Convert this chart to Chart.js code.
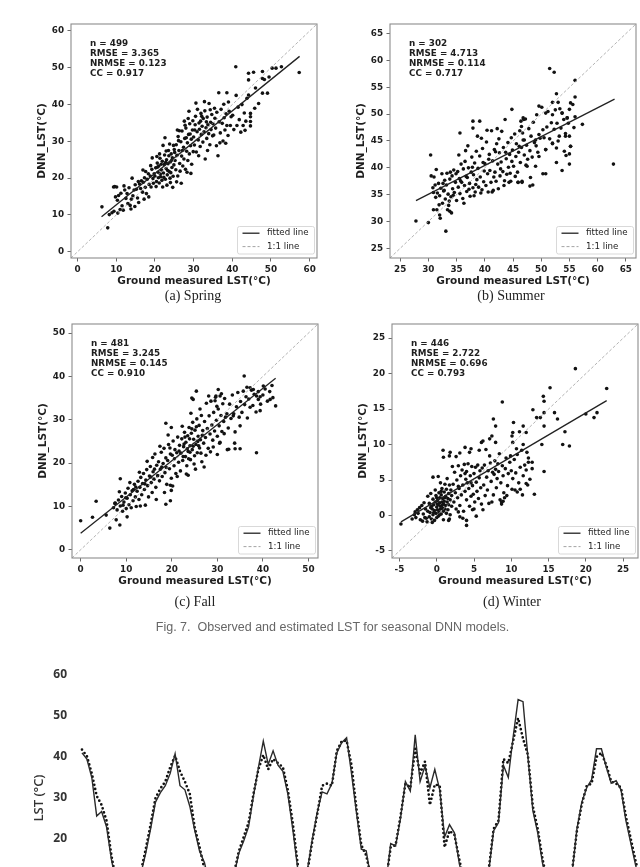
<!DOCTYPE html>
<html>
<head>
<meta charset="utf-8">
<script src="https://cdn.jsdelivr.net/npm/chart.js@4.4.1/dist/chart.umd.min.js"></script>
<style>
  html, body { margin: 0; padding: 0; background: #fff; overflow: hidden; }
  body { width: 640px; height: 867px; position: relative; }
  .panel { position: absolute; width: 320px; height: 290px; }
  .cap { position: absolute; transform: translate(-50%, -50%); white-space: nowrap; line-height: 1;
         font-family: "Liberation Serif", serif; font-size: 14px; color: #222; }
  #figcap { position: absolute; left: 332.5px; top: 627px; transform: translate(-50%, -50%); white-space: nowrap;
            font-family: "Liberation Sans", sans-serif; font-size: 12.5px; color: #666; line-height: 1; }
  #lineWrap { position: absolute; left: 0; top: 660px; width: 700px; height: 300px; }
</style>
</head>
<body>
<div class="panel" style="left:0.7px;top:14px"><canvas id="cSpring"></canvas></div>
<div class="panel" style="left:320px;top:14px"><canvas id="cSummer"></canvas></div>
<div class="panel" style="left:2.3px;top:314.3px"><canvas id="cFall"></canvas></div>
<div class="panel" style="left:321.7px;top:314px"><canvas id="cWinter"></canvas></div>
<div class="cap" style="left:193px;top:296px">(a) Spring</div>
<div class="cap" style="left:511px;top:296px">(b) Summer</div>
<div class="cap" style="left:195px;top:602px">(c) Fall</div>
<div class="cap" style="left:512px;top:602px">(d) Winter</div>
<div id="figcap">Fig. 7.&nbsp; Observed and estimated LST for seasonal DNN models.</div>
<div id="lineWrap"><canvas id="cLine"></canvas></div>

<script>
// ── Scatter data (ground measured LST, DNN LST) ─────────────────────────────
const springPts = [
  [6.3,12.2],[7.8,6.5],[8.2,10.1],[8.9,10.6],[9.3,17.6],[9.6,17.7],[10.1,17.6],[9.8,14.9],[10.3,14],[10.6,15.3],[9.4,11],[10.4,10.5],[11,11.5],
  [11.5,12.5],[11.8,11.3],[12.2,16.8],[12.5,14.5],[12.8,15.8],[13,13.1],[13.3,17.4],[13.6,12.6],[13.8,11.6],[14.1,20],[14.3,15.2],[14.6,16.8],[14.9,18.2],[15.2,17],[15.5,14.6],[15.8,13.4],[11.2,15.9],[12,17.9],[13.9,14.3],[14.8,12.3],
  [16,18.4],[16.3,17.2],[16.5,19.3],[16.8,16.2],[17,18.9],[17.3,20.1],[17.5,17.5],[17.8,15.8],[18,19.7],[18.3,21.2],[18.5,18.3],[18.8,20.6],[19,17.6],[19.2,22.4],[19.5,19.9],[19.8,21.2],[17.2,14.3],[18.4,14.9],[16.9,22.2],[19.3,25.5],[19.6,18.6],[17.6,21.8],[15.7,19.1],[18.9,23.4],
  [20,20.5],[20.2,22.8],[20.4,19.1],[20.6,24.1],[20.8,21.6],[21,23.3],[21.1,18.7],[21.3,25.4],[21.5,20.4],[21.7,22.2],[21.9,24.6],[22,17.6],[22.2,21.4],[22.4,23.7],[22.5,26.3],[22.7,19.7],[22.9,22.6],[23,25],[23.2,20.9],[23.4,23.9],[23.5,27.5],[23.7,21.8],[23.9,24.3],[24,18.8],[24.2,26.6],[24.4,22.9],[24.5,25.5],[24.7,20.5],[24.9,23.6],[25,27.8],
  [20.3,17.7],[21.2,26.6],[22.1,28.9],[22.6,31],[23.1,18.1],[23.8,29.3],[24.6,17.5],[20.9,20.1],[21.6,23.8],[22.8,24.3],[23.3,22.1],[24.1,21.5],[22.3,20.2],[20.5,25.9],[21.8,19.4],[23.6,26.1],[24.8,28.9],[20.7,23],[21.4,21.1],[22.9,27.4],[24.3,24.8],[23.9,20],
  [25.2,24.8],[25.4,22.3],[25.5,29.1],[25.7,26.2],[25.9,20.6],[26,31.3],[26.2,27.5],[26.4,24],[26.5,21.9],[26.7,29.9],[26.9,26],[27,32.8],[27.2,23.3],[27.4,28.4],[27.5,25.2],[27.7,30.8],[27.9,22.4],[28,33.6],[28.2,27.3],[28.4,29.6],[28.5,24.8],[28.7,31.9],[28.9,26.6],[29,34.8],[29.2,28.8],[29.4,30.6],[29.5,23.8],[29.7,33.1],[29.9,27.2],
  [25.6,19],[26.8,18.6],[27.6,35.5],[28.6,36.2],[29.3,21.3],[25.1,27],[26.1,30.2],[27.1,27.5],[28.1,31],[29.1,32],[29.8,35.6],[26.3,32.9],[28.8,38.2],[27.8,34.4],[25.8,33.1],[28.3,21.6],
  [30,31.2],[30.2,29],[30.4,34.5],[30.5,36.8],[30.7,27.1],[30.9,32.6],[31,38.7],[31.2,30.4],[31.4,35],[31.5,33.3],[31.7,28.6],[31.9,37.6],[32,31.9],[32.2,34.1],[32.4,29.8],[32.5,36.2],[32.7,32.6],[32.9,38.3],[33,25.2],[33.2,33.7],[33.4,30.8],[33.5,36.6],[33.7,34.5],[33.9,32.1],[34,40.3],[34.2,29.1],[34.4,35.2],[34.5,33.2],[34.7,37.3],[34.9,31.5],
  [30.6,40.4],[31.3,26.1],[32.8,40.8],[33.6,27.5],[31.8,35.5],[30.3,33.1],[32.1,36.8],[33.3,35.3],[34.3,38.6],[35,34.8],
  [35.2,31.7],[35.5,36.3],[35.7,33.6],[36,37.9],[36.3,26.1],[36.5,43.2],[36.6,35.3],[36.9,32.3],[37.1,38.7],[37.4,34.9],[37.6,30.1],[37.9,36.4],[38.1,33.1],[38.4,37.5],[38.6,43.2],[38.6,34.3],[38.9,31.6],[39.2,38.2],[39.5,34.3],[39.7,36.7],[35.9,28.8],[36.8,29.6],[37.8,40.1],[39,40.7],[35.4,39],[38.3,29.5],
  [40.1,37.1],[40.4,33.2],[40.9,50.3],[41.2,34.3],[41.5,39.3],[41.8,35.9],[42.2,32.5],[42.8,34.3],[43.1,37.7],[43.5,35.5],[43.8,41.7],[44.2,42.6],[44.2,46.7],[44.2,48.5],[44.7,37.6],[44.7,36.7],[44.7,35.4],[44.7,34.2],[42.5,40],[41,42.5],[43.3,33],
  [45.5,48.8],[46.8,40.3],[47.8,49],[47.8,47.1],[48.3,46.8],[47.8,43.1],[49.1,43.1],[50.3,49.9],[51.3,49.9],[52.7,50.3],[57.3,48.7],[46,44.5],[49.5,47.5],[45.8,39]
];
const summerPts = [
  [27.8,30.1],[30,29.8],[30.4,42.4],[33.1,28.2],[30.9,32.2],[31.5,32.2],[32,31.2],[33.8,31.9],[35.6,46.5],[37.9,48.7],[37.9,47.4],[39.1,48.7],[44.8,50.9],[46.8,49.3],[46.9,49],[46.5,47.7],
  [51.5,58.5],[52.3,57.8],[56,56.3],[56,53.2],[55.2,52.1],[55,50.9],[52.7,53.8],[53,52.2],[52,52.2],[57.3,48.1],[62.8,40.7],[55,42.6],[54.1,43.1],[54.4,42.3],[55,40.7],[53.7,39.5],[52.7,41],
  [50.3,38.9],[50.8,38.9],[48,36.6],[48.5,36.8],[47.3,40.5],[45.9,37.3],[46.6,37.5],[44.6,37.5],[55.2,44],[54.3,45.9],[53.2,45.9],[50.8,43.4],[49,45.2],[49.6,42.1],[52,44.6],[52.7,43.7],
  [49.6,51.5],[50.8,50.2],[52,49.9],[53.7,50.2],[54.6,49.3],[46.1,44],[47,45.2],[46.7,46.5],
  [30.5,38.5],[30.8,36.3],[31,38.3],[31.2,36.8],[31.4,39.7],[31.6,35.3],[31.8,37.1],[32,34.8],[32.2,36.2],[32.4,38.9],[32.5,33.4],[32.7,35.7],[32.9,37.7],[33,34.2],[33.2,36.8],[33.3,39],[33.5,35.1],[33.6,33],[33.8,37.9],[34,34.6],[34.2,38.5],[34.3,36.1],[34.5,39.6],[34.6,35.4],[34.8,37.3],[35,33.9],
  [31.3,34.5],[32.1,30.6],[33.4,32.2],[34.1,31.6],[31.9,33.1],[32.8,35.8],[34.9,38.9],[30.9,35.4],[33.7,33.8],[34.4,34.9],[32.6,37.1],[33.9,39.2],
  [35.2,39.3],[35.3,36.4],[35.5,38],[35.6,35.2],[35.8,40.7],[35.9,37.3],[36.1,34.3],[36.2,39.8],[36.4,36.7],[36.5,41.2],[36.7,38.4],[36.8,35.6],[37,44.1],[37.1,40],[37.3,37.1],[37.4,34.7],[37.6,39.2],[37.7,42],[37.9,36.3],[38,38.7],[38.2,40.9],[38.3,35.5],[38.5,43.1],[38.6,37.8],[38.8,39.9],[38.9,36.4],[39.1,42.2],[39.2,38.3],[39.4,45.5],[39.5,35.9],[39.7,41],[39.8,37.4],[39.9,39.4],
  [35.4,42.4],[36.3,33.4],[37.2,36],[38.1,34.8],[38.7,45.9],[39.3,35.3],[36.9,38.2],[35.7,37.6],[37.8,40.1],[36.6,43.2],[38.4,36.9],[39.6,43.6],
  [40,40.8],[40.2,36.7],[40.3,44.8],[40.5,38.9],[40.6,35.5],[40.8,42.5],[40.9,39.5],[41.1,37.3],[41.2,46.9],[41.4,41.3],[41.5,35.8],[41.7,43.4],[41.8,39.2],[42,37.5],[42.1,44.5],[42.3,40.7],[42.4,36.1],[42.6,42.8],[42.7,38.5],[42.9,41.1],[43,46.8],[43.2,39.3],[43.3,43.8],[43.5,37.6],[43.6,49],[43.8,41.7],[43.9,38.8],[44.1,44.7],[44.2,40.1],[44.4,42.5],[44.5,39],[44.7,45.6],[44.8,41.2],[44.9,43.3],
  [40.4,47],[41.3,35.5],[42.2,47.3],[43.4,36.7],[44.3,37.3],[40.7,41.6],[41.9,43],[42.8,39.8],[43.7,42.9],[41.6,38.3],[42.5,45.4],
  [45.1,40.3],[45.3,46.3],[45.5,42.1],[45.6,44.5],[45.8,39.2],[46,42.9],[46.2,46.9],[46.3,41],[46.5,43.8],[46.8,45.2],[47,42.4],[47.2,49.1],[47.4,44.2],[47.6,41.6],[47.8,47.3],[48,43.2],[48.2,45.9],[48.4,42],[48.6,48.5],[48.8,44.7],[49,40.3],[49.2,49.9],[49.4,42.9],[49.6,46.2],[49.8,45.5],
  [45.4,38.4],[46.6,37.3],[47.5,40.3],[48.1,38.2],[49.1,44.1],[46.4,48.7],[45.9,37.3],
  [50.1,51.3],[50.3,47.1],[50.5,45.6],[50.8,43.4],[51,47.6],[51.2,50.5],[51.5,45.4],[51.8,48.4],[52,44.5],[52.3,47.2],[52.5,50.8],[52.8,48.3],[53,45],[53.3,51],[53.5,47.4],[53.7,50.2],[54,49],[54.3,46.4],[54.6,49.3],[55,45.9],[55.2,44],[55.6,51.8],[56,49.5],[55.8,47.5],[54.8,48.3]
];
const fallPts = [
  [0,6.7],[2.6,7.5],[3.4,11.2],[6.4,5],[8.7,16.4],[18.7,29.2],[19.9,28.2],[18.7,10.5],[19.7,11.3],[25.4,36.6],[24.4,35],[24.7,34.7],[35.9,40.1],[33.9,23.3],[38.6,22.4],[42.8,33.2],
  [41.6,34.7],[42.2,35.1],[40.1,37.8],[39.4,35.3],[39,34.7],[39.4,32.1],[37.2,37.4],[37.9,37],[38.6,35.5],[30,22],[32.2,23.1],[30.2,37],[29.7,35.5],[27.1,19.1],[29.1,23.7],[30.6,24.8],
  [23.6,17.2],[19.7,14.9],[19.9,13.7],[10.2,7.6],[9.3,10.3],[7.5,10.7],[5.6,8],[7.8,6.9],[8.6,5.7],[35,28.6],[33.5,30.9],
  [7.2,9.7],[7.6,10.8],[8,9.2],[8.3,11.5],[8.7,10.1],[9,12.3],[9.2,8.9],[9.5,11],[9.8,13.1],[10,9.5],[10.2,11.9],[10.4,14.2],[10.6,10.4],[10.9,12.7],[11.1,9.7],[11.3,13.6],[11.5,11.3],[11.8,15.1],[12,12.2],[12.2,10],[10.8,15.5],[11.6,13.9],[12.1,14.5],[9.9,12],[8.5,13.4],
  [12.4,13.5],[12.6,15.8],[12.8,11.6],[13,14.4],[13.2,16.7],[13.4,12.7],[13.6,15.3],[13.8,17.6],[14,13.9],[14.2,10.3],[14.3,16.1],[14.5,18.5],[14.7,14.8],[14.9,12.2],[15.1,17],[15.3,19.2],[15.5,15.5],[15.7,13.2],[15.9,18],[16.1,16.3],[16.3,22.1],[16.5,14.4],[16.7,19.5],[16.9,17.1],
  [13.1,10.1],[14.6,20.4],[15.8,21.3],[16.6,11.6],[12.9,17.9],[14.1,15.2],[15.4,16.8],[16.2,18.6],
  [17.1,20.3],[17.3,15.9],[17.5,18.6],[17.7,22.5],[17.9,16.9],[18.1,19.9],[18.3,23.4],[18.5,17.8],[18.7,21.2],[18.9,15.1],[19.1,20.6],[19.3,24.3],[19.5,18.7],[19.7,22.1],[19.9,16.5],[20.1,21.8],[20.3,25.1],[20.5,19.4],[20.7,23.1],[20.9,17.6],[21.1,22.4],[21.3,26],[21.5,20.2],[21.7,24.1],[21.9,18.2],
  [17.4,23.9],[18.4,13.2],[19.2,26.5],[20.2,14.7],[21.2,16.9],[19.6,23.5],[18.8,19],[20.6,21],[21.6,22.8],[17.8,19.1],
  [22,22.3],[22.2,25.6],[22.4,20.6],[22.6,23.8],[22.8,27.1],[23,21.5],[23.1,24.8],[23.3,19.4],[23.5,26.3],[23.6,22.7],[23.8,28.2],[24,24],[24.1,20.8],[24.3,26.9],[24.5,23.1],[24.6,29.4],[24.8,25.5],[25,21.7],[25.1,27.6],[25.3,24.3],[25.5,30.2],[25.6,22.4],[25.8,26.2],[26,28.7],[26.1,23.5],[26.3,25.4],[26.5,31],[26.6,20.3],[26.8,27.5],[27,24.6],
  [22.3,28.5],[23.2,17.5],[24.2,31.5],[25.2,18.6],[26.2,32.5],[22.7,24.4],[23.9,25.6],[24.7,23.9],[25.7,25],[26.7,26.4],[22.5,21.5],[23.4,23.3],[24.4,27.9],[25.4,28.4],[26.4,22.3],[24.9,19.8],[23.7,21],[25.9,24],[22.9,26],[24,22.5],
  [27.2,29.6],[27.4,25.9],[27.6,33.8],[27.8,28],[28,23.4],[28.2,30.9],[28.4,26.7],[28.6,34.3],[28.8,28.8],[29,25.3],[29.2,31.7],[29.4,27.4],[29.6,35.2],[29.8,29.9],[30,26.2],[30.2,32.5],[30.4,28.6],[30.6,35.5],[30.8,31],[31,27.3],[31.2,33.7],[31.4,29.6],[31.6,34.9],[31.8,30.6],
  [27.5,21.8],[28.5,22.6],[29.5,34.4],[30.5,24.6],[31.5,26.8],[28.1,35.5],[29.9,33.1],[30.9,36],
  [32.1,31.4],[32.4,28.1],[32.7,33.6],[33,30.3],[33.3,35.7],[33.6,31.4],[33.9,27.2],[34.2,33],[34.5,36.3],[34.8,30.6],[35.1,34.2],[35.4,31.7],[35.7,36.6],[36,33.5],[36.3,35.3],[36.6,30.4],[36.9,34.8],[37.2,32.9],[37.5,36.8],[37.8,33.3],[38.1,35.9],[38.5,31.8],[39,36.5],[39.5,33.6],[40,35.7],[40.5,37.1],[41,34.3],[41.5,36.5],[42,37.9],
  [33.8,24.6],[32.5,23.2],[35,23.3],[36.5,37.5]
];
const winterPts = [
  [-4.8,-1.2],[18.6,20.7],[22.8,17.9],[15.2,18],[8.8,16],[14.3,16.8],[14.4,16.1],[12.9,14.9],[13.4,13.8],[13.9,13.8],[14.4,14.5],[14.4,12.6],[15.8,14.5],[16.2,13.6],[17.2,11.8],[16.9,10],[17.8,9.8],
  [20,14.3],[21.1,13.8],[21.5,14.5],[14.1,10],[14.4,6.2],[13.1,3],[7.6,13.6],[7.9,12.6],[10.3,13.1],[10.2,11.7],[10.1,11.2],[11.6,12.6],[12,11.7],[11.1,11.8],
  [10.2,10.3],[10.7,9.4],[11.6,10],[12.1,8.9],[12.3,7.5],[12.8,7.5],[7.4,11.2],[7.1,10.8],[6,10.3],[6.2,10.5],[3.8,9.6],[4.6,9.4],[0.85,9.2],[0.9,8.2],[1.8,8.9],[1.7,8.4],
  [4,-0.7],[4,-1.4],[2.9,0.5],[3.1,-0.2],[1.7,-0.5],[11.2,3.7],[12,4.5],[10.8,3.3],[9.4,2.8],[10.1,3.7],[8.7,1.6],[8.9,2],[5,0.9],
  [-2.5,0.3],[-2.2,-0.6],[-2,1.4],[-1.8,0.2],[-1.6,-0.3],[-1.5,0.9],[-1.3,-0.9],[-1.2,0.6],[-1,1.7],[-1,-0.2],[-0.9,0.4],[-0.8,1.1],[-0.7,-0.5],[-0.6,0.9],[-0.5,2.3],[-0.5,0.1],[-0.4,1.5],[-0.3,-0.7],[-0.3,0.7],[-0.2,1.9],
  [-0.1,0.3],[-0.1,2.8],[0,1.2],[0,-0.3],[0.1,0.8],[0.1,2.1],[0.2,1.5],[0.2,-0.1],[0.3,3.2],[0.3,0.5],[0.4,1.8],[0.4,2.5],[0.5,0.9],[0.5,1.3],[0.6,2.9],[0.6,0.2],[0.7,1.9],[0.7,3.8],[0.8,1],[0.8,2.4],
  [0.9,0.6],[0.9,1.6],[1,3.3],[1,2],[1.1,0.9],[1.1,4.4],[1.2,1.4],[1.2,2.7],[1.3,0.3],[1.3,3.7],[1.4,1.9],[1.4,5.2],[1.5,2.4],[1.5,0.8],[1.6,3.1],[1.6,1.5],[1.7,4.3],[1.8,2.2],[1.8,0.1],[1.9,3.6],
  [2,1.3],[2,2.8],[-0.2,3.6],[0.5,4.6],[-0.6,-1],[0.2,5.5],[-1.2,2.7],[0.9,-0.6],[1.6,-0.7],[-0.8,3.1],[0.4,0.1],[0.7,1.4],[0.1,1.6],[1.1,2.5],[-0.4,0.4],[-0.7,1.3],[0.6,3.4],[0,2.5],
  [-3,0.1],[-2.8,-0.3],[-2.6,0.8],[-1.7,1.8],[-1.9,-0.8],[-2.3,1.1],[-1.4,-0.4],[-3.3,-0.5],[-2.9,0.5],[-0.5,5.4],
  [2.2,4.4],[2.3,1.9],[2.4,6.1],[2.5,3.2],[2.6,0.9],[2.7,5],[2.8,2.5],[2.9,7],[3,3.8],[3.1,1.4],[3.2,5.6],[3.3,2.9],[3.4,6.4],[3.5,4.3],[3.6,0.6],[3.7,7.2],[3.8,3.4],[3.9,5.1],[4,2.2],[4,6.2],
  [4.1,4.6],[4.2,7.3],[4.3,3.8],[4.4,1.3],[4.5,5.6],[4.6,2.7],[4.7,6.9],[4.8,4.2],[4.9,3],[5,5.9],[5.1,1.9],[5.2,6.8],[5.3,4.7],[5.4,3.4],[5.5,7.1],[5.6,2.4],[5.7,5.3],[5.8,6.3],[5.9,3.9],[6,1.6],
  [2.6,8.3],[3.1,8.8],[4.4,8.9],[5.7,9.2],[3.5,-0.4],[2.1,6.9],[4.8,0.8],[5.3,-0.1],[2.9,4.1],[3.8,5.9],[4.6,4.6],
  [6.1,6.7],[6.3,4.3],[6.4,7.1],[6.5,2.8],[6.7,5.4],[6.8,3.6],[6.9,6.3],[7,1.7],[7.2,7.4],[7.3,4.8],[7.5,6.1],[7.6,2.9],[7.7,5.8],[7.8,7.7],[7.9,6.5],[8,3.9],[8.1,5.2],[8.2,7.3],[8.3,6.2],[8.5,2.2],
  [8.6,4.6],[8.8,7],[8.9,5.6],[9,3.2],[9.2,6.6],[9.3,8.1],[9.5,4.2],[9.6,5.9],[9.8,7.5],[10,6.3],[6.6,9.3],[7.9,10.3],[8.4,8.7],[9.9,8.4],[6.2,0.8],[7.4,1.9],[8.7,1.9],[9.1,2.5],[7.1,8.4],
  [10.2,5.2],[10.4,7.9],[10.6,6],[10.8,8.6],[11,4.6],[11.2,6.8],[11.4,9.2],[11.6,5.6],[11.8,7.1],[12,6.4],[12.3,8.1],[12.5,5.1],[12.8,6.6],[10.5,3.6],[11.5,2.9],[12.2,4.3]
];

// fitted-line end points (x, y) and axis limits / ticks per season
const springFitX = [6.2, 57.4],  springFitY = [9.5, 53.1];
const summerFitX = [27.8, 63.0], summerFitY = [33.9, 52.8];
const fallFitX   = [0, 42.8],    fallFitY   = [3.8, 39.6];
const winterFitX = [-4.8, 22.8], winterFitY = [-0.9, 16.2];

const springLim = [-1.7, 61.9], springTicks = [0, 10, 20, 30, 40, 50, 60];
const summerLim = [23.2, 66.8], summerTicks = [25, 30, 35, 40, 45, 50, 55, 60, 65];
const fallLim   = [-1.9, 52.1], fallTicks   = [0, 10, 20, 30, 40, 50];
const winterLim = [-6.0, 27.0], winterTicks = [-5, 0, 5, 10, 15, 20, 25];

const springStats = ['n = 499', 'RMSE = 3.365', 'NRMSE = 0.123', 'CC = 0.917'];
const summerStats = ['n = 302', 'RMSE = 4.713', 'NRMSE = 0.114', 'CC = 0.717'];
const fallStats   = ['n = 481', 'RMSE = 3.245', 'NRMSE = 0.145', 'CC = 0.910'];
const winterStats = ['n = 446', 'RMSE = 2.722', 'NRMSE = 0.696', 'CC = 0.793'];

// ── Time series (observed = solid, estimated = dotted) ──────────────────────
const obsLst = [
  41.0,39.5,35.0,25.6,26.7,23.0,15.0,9.0,6.0,5.0,5.5,7.5,11.5,16.5,22.5,29.0,31.3,33.0,36.0,40.8,
  33.0,32.0,28.0,22.2,17.0,14.2,9.0,5.5,4.0,4.5,7.0,11.0,16.5,19.5,23.0,30.5,37.4,43.9,38.2,41.5,
  38.0,36.5,31.0,22.5,13.0,8.0,12.5,20.0,26.5,31.5,31.0,33.5,41.0,43.5,44.7,36.0,26.5,17.5,17.1,10.0,
  6.0,5.5,9.0,18.9,18.3,25.0,34.0,31.7,45.4,34.0,37.8,32.5,37.0,32.0,20.5,23.5,21.5,14.0,9.0,6.0,
  5.0,6.0,8.5,12.0,22.0,24.0,38.0,35.0,45.0,54.0,53.5,40.0,27.0,21.5,14.0,9.0,6.0,5.0,5.5,7.5,
  11.5,22.5,29.0,32.5,34.5,42.0,42.0,37.5,33.6,34.2,32.0,24.5,19.0,13.5,9.0,6.0
];
const estLst = [
  41.8,40.2,36.0,30.5,28.3,24.5,16.0,9.5,6.5,5.5,6.0,8.0,12.0,17.5,23.5,30.0,32.3,34.0,37.5,40.3,
  36.5,34.0,31.0,22.8,18.0,12.5,9.0,6.0,4.5,5.0,7.5,11.5,17.0,20.5,24.0,31.0,37.0,40.5,37.0,39.5,
  38.5,37.5,32.0,24.0,14.0,8.5,12.0,19.5,26.0,33.0,33.5,33.0,41.5,43.8,44.0,38.0,27.5,18.5,16.0,10.5,
  6.5,6.0,9.5,18.0,18.5,25.5,33.5,32.5,42.0,36.0,38.9,28.3,33.3,33.0,18.0,22.0,21.0,15.0,9.5,6.5,
  5.5,6.5,9.0,12.5,22.5,24.5,39.5,38.5,44.0,49.5,44.5,40.5,28.0,22.5,15.0,9.5,6.5,5.5,6.0,8.0,
  12.0,22.0,28.5,33.0,33.5,40.0,41.0,38.0,34.0,33.5,32.5,25.5,20.0,14.5,10.0,6.5
];
const lstTicks = [0, 10, 20, 30, 40, 50, 60];

// ── Frame, stats text and legend drawn inside each scatter panel ─────────────
const framePlugin = {
  id: 'frame',
  afterDatasetsDraw(chart, args, opts) {
    if (!opts.stats) return;
    const { ctx, chartArea: a } = chart;
    ctx.save();
    // stats block
    ctx.fillStyle = '#1e1e1e';
    ctx.font = 'bold 8.8px "DejaVu Sans"';
    ctx.textBaseline = 'middle';
    opts.stats.forEach((t, i) => ctx.fillText(t, a.left + 19, a.top + 20 + i * 10));
    // legend box
    const bx = a.right - 79.5, by = a.bottom - 31.5, bw = 77, bh = 27.5;
    ctx.fillStyle = 'rgba(255,255,255,0.85)';
    ctx.strokeStyle = '#cfcfcf';
    ctx.lineWidth = 0.8;
    ctx.beginPath();
    ctx.roundRect(bx, by, bw, bh, 2);
    ctx.fill();
    ctx.stroke();
    const rows = [
      { label: chart.data.datasets[1].label, color: '#222', w: 1.3, dash: [] },
      { label: chart.data.datasets[2].label, color: '#999', w: 0.9, dash: [3, 2] },
    ];
    ctx.font = '8.7px "DejaVu Sans"';
    rows.forEach((r, i) => {
      const y = by + 6.7 + i * 13.4;
      ctx.strokeStyle = r.color;
      ctx.lineWidth = r.w;
      ctx.setLineDash(r.dash);
      ctx.beginPath();
      ctx.moveTo(bx + 5, y);
      ctx.lineTo(bx + 22, y);
      ctx.stroke();
      ctx.setLineDash([]);
      ctx.fillStyle = '#222';
      ctx.fillText(r.label, bx + 29.5, y);
    });
    // full axes frame
    ctx.strokeStyle = '#8c8c8c';
    ctx.lineWidth = 1.1;
    ctx.strokeRect(a.left, a.top, a.right - a.left, a.bottom - a.top);
    ctx.restore();
  }
};

const tickFont = { family: 'DejaVu Sans', size: 8.8, weight: 'bold' };
const titleFont = { family: 'DejaVu Sans', size: 10.5, weight: 'bold' };

function mkScatter(id, pts, lim, ticks, fitX, fitY, stats) {
  const axis = (title, isX) => ({
    type: 'linear',
    min: lim[0],
    max: lim[1],
    afterBuildTicks: s => { s.ticks = ticks.map(v => ({ value: v })); },
    afterFit: s => { if (isX) s.height = 46; else s.width = 35; },
    grid: { drawOnChartArea: false, tickLength: 3.5, tickColor: '#444', tickWidth: 0.8 },
    border: { display: false },
    ticks: { font: tickFont, color: '#1e1e1e', padding: isX ? 2.5 : 3.5, maxRotation: 0, autoSkip: false },
    title: { display: true, text: title, font: titleFont, color: '#1e1e1e',
             padding: isX ? { top: 0, bottom: 16.5 } : { top: 0, bottom: 0 } },
  });
  new Chart(document.getElementById(id), {
    type: 'scatter',
    data: {
      datasets: [
        { label: 'points', data: pts.map(p => ({ x: p[0], y: p[1] })),
          pointRadius: 1.8, pointBackgroundColor: '#121212', pointBorderWidth: 0, order: 2 },
        { label: 'fitted line', type: 'line', data: fitX.map((x, i) => ({ x, y: fitY[i] })),
          borderColor: '#222', borderWidth: 1.3, pointRadius: 0, order: 0 },
        { label: '1:1 line', type: 'line', data: lim.map(v => ({ x: v, y: v })),
          borderColor: '#a0a0a0', borderWidth: 0.8, borderDash: [3, 2], pointRadius: 0, order: 1 },
      ],
    },
    options: {
      responsive: true,
      maintainAspectRatio: false,
      animation: false,
      layout: { padding: { left: 35, top: 10, right: 4, bottom: 0 } },
      plugins: { legend: { display: false }, tooltip: { enabled: false }, frame: { stats } },
      scales: { x: axis('Ground measured LST(°C)', true), y: axis('DNN_LST(°C)', false) },
    },
    plugins: [framePlugin],
  });
}

mkScatter('cSpring', springPts, springLim, springTicks, springFitX, springFitY, springStats);
mkScatter('cSummer', summerPts, summerLim, summerTicks, summerFitX, summerFitY, summerStats);
mkScatter('cFall',   fallPts,   fallLim,   fallTicks,   fallFitX,   fallFitY,   fallStats);
mkScatter('cWinter', winterPts, winterLim, winterTicks, winterFitX, winterFitY, winterStats);

// ── Bottom time-series chart (cut off by the page edge) ──────────────────────
const lstFont = { family: 'Open Sans', size: 12, weight: '700' };
new Chart(document.getElementById('cLine'), {
  type: 'line',
  data: {
    datasets: [
      { label: 'observed', data: obsLst.map((v, i) => ({ x: i, y: v })),
        borderColor: '#2a2a2a', borderWidth: 1.4, pointRadius: 0, tension: 0 },
      { label: 'estimated', data: estLst.map((v, i) => ({ x: i, y: v })),
        borderColor: '#111', borderWidth: 2.7, borderDash: [0, 4.2], borderCapStyle: 'round',
        pointRadius: 0, tension: 0 },
    ],
  },
  options: {
    responsive: true,
    maintainAspectRatio: false,
    animation: false,
    layout: { padding: { left: 31.2, top: 15, right: 0, bottom: 39 } },
    plugins: { legend: { display: false }, tooltip: { enabled: false } },
    scales: {
      x: { type: 'linear', min: -2.04, max: 126.12, display: false },
      y: {
        min: 0, max: 60,
        afterBuildTicks: s => { s.ticks = lstTicks.map(v => ({ value: v })); },
        afterFit: s => { s.width = 40.8; },
        grid: { display: false, drawTicks: false },
        border: { display: false },
        ticks: { font: lstFont, color: '#333', padding: 5 },
        title: { display: true, text: 'LST (°C)', font: { family: 'Open Sans', size: 13, weight: '600' },
                 color: '#333', padding: 0 },
      },
    },
  },
});
</script>
</body>
</html>
